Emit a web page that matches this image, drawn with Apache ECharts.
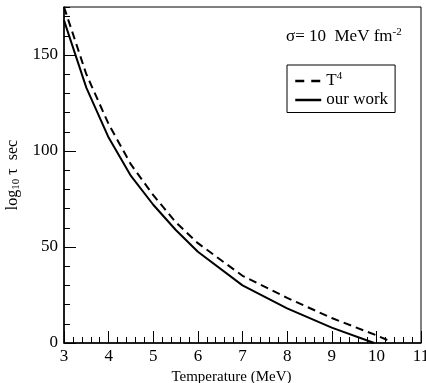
<!DOCTYPE html>
<html><head><meta charset="utf-8">
<script src="https://cdn.jsdelivr.net/npm/echarts@6/dist/echarts.min.js"></script>
<style>html,body{margin:0;padding:0;background:#fff}#c{width:426px;height:383px}</style>
</head><body><div id="c"></div>
<script>
var solidTemps = [3, 3.5, 4, 4.5, 5, 5.5, 6, 7, 8, 9, 9.95];
var solidValues = [168, 133, 107, 87, 72, 59, 47.5, 30, 18, 8, 0];
var dashTemps = [3, 3.5, 4, 4.5, 5, 5.5, 6, 7, 8, 9, 10, 10.25];
var dashValues = [175, 140, 114, 93, 77, 63, 52, 35, 23.5, 13, 4, 1.5];
var xTicks = [3, 4, 5, 6, 7, 8, 9, 10, 11];
var yTicks = [0, 50, 100, 150];
var seriesNames = ['T4', 'our work'];

function pairs(xs, ys) { return xs.map(function (x, i) { return [x, ys[i]]; }); }
var F = 'Liberation Serif';
var chart = echarts.init(document.getElementById('c'));
chart.setOption({
  animation: false,
  backgroundColor: '#fff',
  grid: { left: 64, right: 5, top: 7, bottom: 40, show: true, borderColor: '#000', borderWidth: 1,
    containLabel: false, outerBoundsMode: 'none' },
  xAxis: [{
    type: 'value', min: xTicks[0], max: xTicks[xTicks.length - 1], interval: 1,
    name: 'Temperature (MeV)', nameLocation: 'middle', nameGap: 25,
    nameTextStyle: { fontFamily: F, fontSize: 15, color: '#000', padding: [0, 22, 0, 0] },
    axisLine: { lineStyle: { color: '#000', width: 1.5 } },
    axisTick: { inside: true, length: 12, lineStyle: { color: '#000' } },
    minorTick: { show: true, splitNumber: 5, length: 6, lineStyle: { color: '#000' } },
    axisLabel: { fontFamily: F, fontSize: 17, color: '#000', margin: 5 },
    splitLine: { show: false }
  }],
  yAxis: [{
    type: 'value', min: 0, max: 175, interval: 50, position: 'left',
    name: 'log{sub|10} τ  sec', nameLocation: 'middle', nameGap: 36, nameRotate: 90,
    nameTextStyle: { fontFamily: F, fontSize: 16, color: '#000',
      rich: { sub: { fontFamily: F, fontSize: 11, color: '#000', verticalAlign: 'bottom', padding: [7, 0, 0, 0] } } },
    axisLine: { show: true, lineStyle: { color: '#000', width: 1.5 } },
    axisTick: { inside: true, length: 12, lineStyle: { color: '#000' } },
    axisLabel: { fontFamily: F, fontSize: 17, color: '#000', margin: 6, showMaxLabel: false,
      formatter: function (v) { return yTicks.indexOf(v) >= 0 ? String(v) : ''; } },
    splitLine: { show: false }
  }, {
    type: 'value', min: 0, max: 175, interval: 10, position: 'left',
    axisLine: { show: false },
    axisTick: { show: true, inside: true, length: 6, lineStyle: { color: '#000' } },
    axisLabel: { show: false },
    splitLine: { show: false }
  }],
  legend: {
    orient: 'vertical', left: 287, top: 65,
    borderColor: '#000', borderWidth: 1, borderRadius: 0,
    padding: [6, 7, 4, 7], itemGap: 2, itemWidth: 26, itemHeight: 16,
    itemStyle: { opacity: 0 },
    data: [
      { name: seriesNames[0], lineStyle: { type: [9, 7], width: 2.5, color: '#000' } },
      { name: seriesNames[1], lineStyle: { type: 'solid', width: 2.5, color: '#000' } }
    ],
    formatter: function (n) { return n === 'T4' ? 'T{sup|4}' : n; },
    textStyle: { fontFamily: F, fontSize: 17, color: '#000',
      rich: { sup: { fontFamily: F, fontSize: 11, color: '#000', verticalAlign: 'top', padding: [0, 0, 9, 0] } } }
  },
  graphic: [{
    type: 'text', left: 286, top: 27,
    style: { text: 'σ= 10  MeV fm{sup|-2}', fill: '#000', font: '17px "Liberation Serif"',
      rich: { sup: { fontFamily: F, fontSize: 11, fill: '#000', verticalAlign: 'top', padding: [0, 0, 9, 0] } } }
  }],
  series: [{
    name: seriesNames[0], type: 'line', data: pairs(dashTemps, dashValues), symbol: 'none',
    lineStyle: { color: '#000', width: 2, type: [8, 5] }, itemStyle: { color: '#000' }
  }, {
    name: seriesNames[1], type: 'line', data: pairs(solidTemps, solidValues), symbol: 'none',
    lineStyle: { color: '#000', width: 2 }, itemStyle: { color: '#000' }
  }]
});
</script></body></html>
